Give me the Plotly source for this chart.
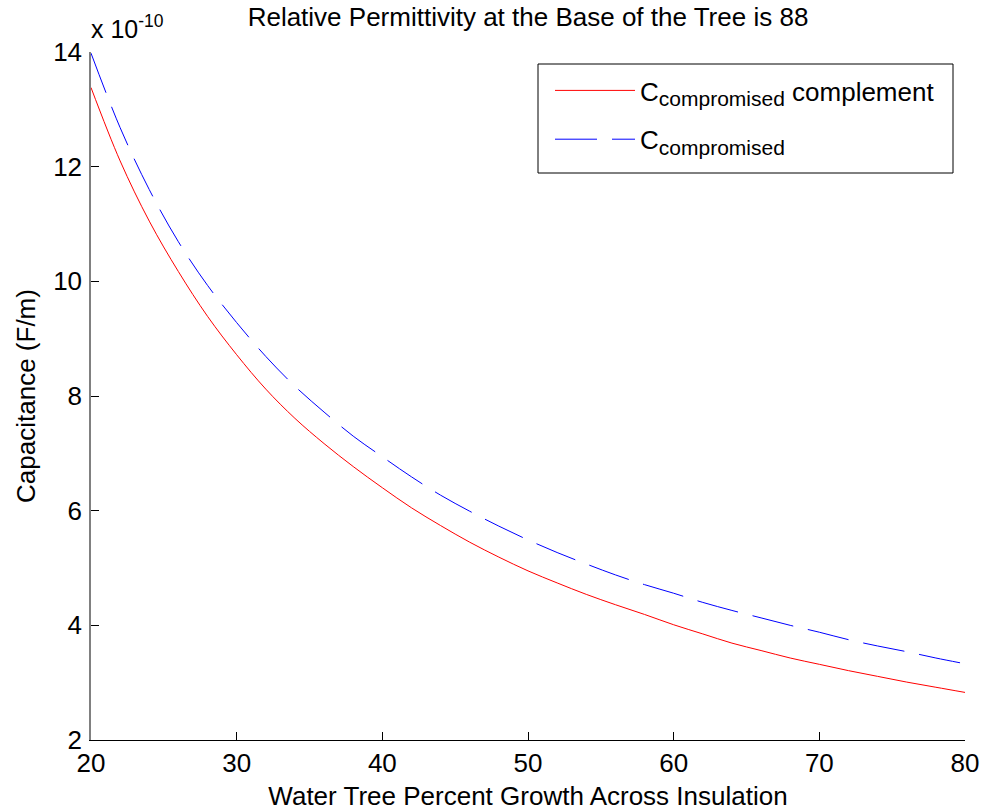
import plotly.graph_objects as go

growth = [20, 22, 24, 26, 28, 30, 32, 34, 36, 38, 40, 42, 44, 46, 48, 50,
          52, 54, 56, 58, 60, 62, 64, 66, 68, 70, 72, 74, 76, 78, 80]

c_complement = [13.38, 12.10, 11.05, 10.17, 9.39, 8.72, 8.12, 7.61, 7.17, 6.77, 6.40,
                6.05, 5.74, 5.45, 5.19, 4.95, 4.74, 4.54, 4.36, 4.19, 4.01,
                3.85, 3.69, 3.56, 3.43, 3.32, 3.21, 3.11, 3.01, 2.92, 2.83]

c_compromised = [13.98, 12.68, 11.60, 10.69, 9.93, 9.28, 8.69, 8.17, 7.72, 7.30, 6.94,
                 6.59, 6.27, 5.99, 5.73, 5.49, 5.27, 5.07, 4.88, 4.71, 4.56,
                 4.40, 4.26, 4.13, 4.00, 3.88, 3.75, 3.64, 3.54, 3.43, 3.33]

x_ticks = [20, 30, 40, 50, 60, 70, 80]
y_ticks = [2, 4, 6, 8, 10, 12, 14]

FONT = "Liberation Sans, Arial, sans-serif"
FS = 26
SUB = "<sub><span style='font-size:21px'>compromised</span></sub>"

W, H = 982, 812
ML, MR, MT, MB = 91, 17, 52, 72


def px_x(p):
    return (p - ML) / (W - MR - ML)


def px_y(p):
    return (H - MB - p) / (H - MB - MT)


fig = go.Figure()
fig.add_trace(go.Scatter(
    x=growth, y=c_complement, mode="lines", legendgroup="a",
    line=dict(color="#ff0000", width=1, shape="spline"),
    name="C" + SUB + " complement"))
fig.add_trace(go.Scatter(
    x=growth, y=c_compromised, mode="lines", legendgroup="b",
    line=dict(color="#0000ff", width=1, dash="42px,15px", shape="spline"),
    name="C" + SUB))

fig.update_layout(
    width=W, height=H,
    margin=dict(l=ML, r=MR, t=MT, b=MB, autoexpand=False),
    paper_bgcolor="white", plot_bgcolor="white",
    font=dict(family=FONT, size=FS, color="black"),
    title=dict(text="Relative Permittivity at the Base of the Tree is 88",
               x=(ML + (W - MR)) / 2 / W, xanchor="center",
               y=1 - 17 / H, yanchor="middle", yref="container",
               font=dict(size=FS, family=FONT)),
    showlegend=True,
    legend=dict(x=px_x(550), y=px_y(67), xanchor="left", yanchor="top",
                bgcolor="rgba(0,0,0,0)", borderwidth=0,
                font=dict(size=FS, family=FONT), itemwidth=80,
                tracegroupgap=12),
    shapes=[dict(type="rect", xref="paper", yref="paper",
                 x0=px_x(538), x1=px_x(953), y0=px_y(173), y1=px_y(64),
                 line=dict(color="black", width=1), fillcolor="white", layer="below")],
    xaxis=dict(range=[20, 80], tickvals=x_ticks, ticks="inside", ticklen=8,
               showline=True, linecolor="black", linewidth=1, tickcolor="black",
               showgrid=False, zeroline=False, automargin=False,
               tickfont=dict(size=FS),
               title=dict(text="Water Tree Percent Growth Across Insulation",
                          standoff=9, font=dict(size=FS))),
    yaxis=dict(range=[2, 14], tickvals=y_ticks, ticks="inside", ticklen=8,
               showline=True, linecolor="#808080", linewidth=1.5, tickcolor="black",
               showgrid=False, zeroline=False, ticklabelstandoff=2, automargin=False,
               tickfont=dict(size=FS),
               title=dict(text="Capacitance (F/m)", standoff=10, font=dict(size=FS))),
    annotations=[dict(text="x 10<sup>-10</sup>", xref="paper", yref="paper",
                      x=0, y=1, xanchor="left", yanchor="bottom", showarrow=False,
                      xshift=-2, yshift=7, font=dict(size=25, family=FONT))],
)

fig.write_html("out.html",
               config={"displayModeBar": False},
               post_script="document.body.style.margin='0';"
                           "document.body.style.overflow='hidden';")
